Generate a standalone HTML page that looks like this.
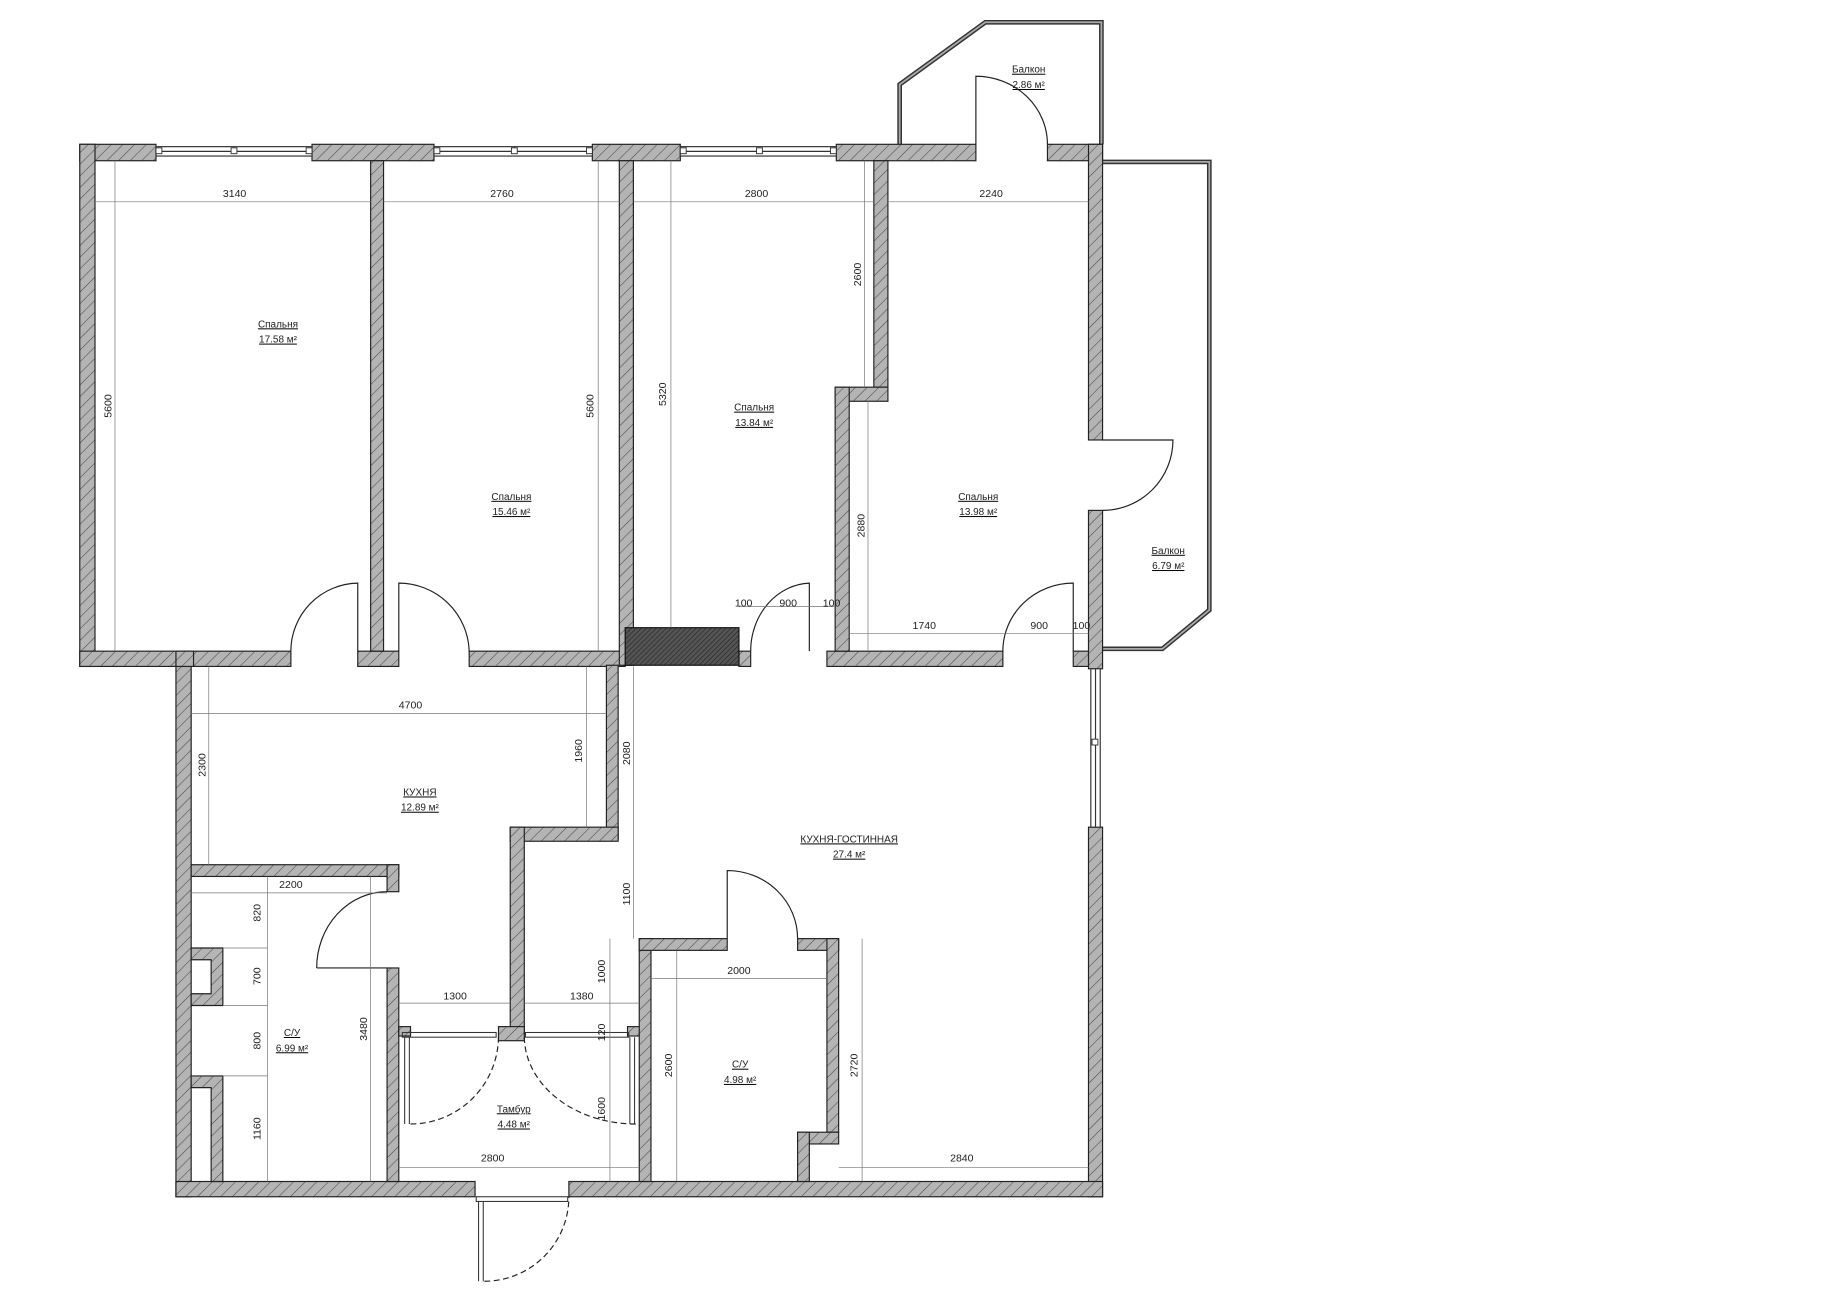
<!DOCTYPE html>
<html><head><meta charset="utf-8"><style>
html,body{margin:0;padding:0;background:#fff;}
svg{display:block}
text{font-family:"Liberation Sans","DejaVu Sans",sans-serif;fill:#222;}
.d{font-size:9px;}
.l{font-size:8.5px;text-decoration:underline;}
</style></head><body>
<svg width="1838" height="1300" viewBox="0 0 1567 1108" preserveAspectRatio="none" xmlns="http://www.w3.org/2000/svg">
<defs>
<pattern id="h" patternUnits="userSpaceOnUse" width="7" height="7" patternTransform="rotate(45)">
<rect width="7" height="7" fill="#b4b4b4"/><line x1="0" y1="0" x2="0" y2="7" stroke="#444" stroke-width="0.9"/>
</pattern>
<pattern id="hd" patternUnits="userSpaceOnUse" width="3" height="3" patternTransform="rotate(45)">
<rect width="3" height="3" fill="#555"/><line x1="0" y1="0" x2="0" y2="3" stroke="#222" stroke-width="1"/>
</pattern>
</defs>
<rect width="1567" height="1108" fill="#fff"/>

<!-- balconies -->
<g fill="none" stroke="#333" stroke-width="4">
<polyline points="767,123 767,72 840,19 939,19 939,123"/>
<polyline points="940,138 1031,138 1031,520 991,553 940,553"/>
</g>
<g fill="none" stroke="#aaa" stroke-width="1.5">
<polyline points="767,123 767,72 840,19 939,19 939,123"/>
<polyline points="940,138 1031,138 1031,520 991,553 940,553"/>
</g>

<!-- walls -->
<g fill="url(#h)" stroke="#222" stroke-width="1">
<rect x="68" y="123" width="65" height="14"/>
<rect x="266" y="123" width="104" height="14"/>
<rect x="505" y="123" width="75" height="14"/>
<rect x="713" y="123" width="119" height="14"/>
<rect x="893" y="123" width="47" height="14"/>
<rect x="68" y="123" width="13" height="445"/>
<rect x="68" y="555" width="180" height="13"/>
<rect x="305" y="555" width="35" height="13"/>
<rect x="400" y="555" width="133" height="13"/>
<rect x="630" y="555" width="10" height="13"/>
<rect x="705" y="555" width="150" height="13"/>
<rect x="915" y="555" width="15" height="13"/>
<rect x="316" y="137" width="11" height="418"/>
<rect x="528" y="137" width="12" height="430"/>
<rect x="745" y="137" width="12" height="193"/>
<rect x="712" y="330" width="45" height="12"/>
<rect x="712" y="330" width="12" height="225"/>
<rect x="928" y="123" width="12" height="252"/>
<rect x="928" y="435" width="12" height="135"/>
<rect x="928" y="705" width="12" height="315"/>
<rect x="150" y="568" width="13" height="452"/>
<rect x="150" y="555" width="15" height="13"/>
<rect x="517" y="567" width="10" height="148"/>
<rect x="435" y="705" width="92" height="12"/>
<rect x="435" y="705" width="12" height="177"/>
<rect x="150" y="1007" width="255" height="13"/>
<rect x="485" y="1007" width="455" height="13"/>
<rect x="163" y="737" width="177" height="10"/>
<rect x="330" y="737" width="10" height="23"/>
<rect x="330" y="825" width="10" height="182"/>
<path d="M163 808 H190 V857 H163 V847 H180 V818 H163 Z"/>
<path d="M163 917 H190 V1007 H180 V927 H163 Z"/>
<rect x="340" y="875" width="10" height="8"/>
<rect x="425" y="875" width="22" height="12"/>
<rect x="535" y="875" width="12" height="8"/>
<rect x="545" y="800" width="10" height="207"/>
<rect x="545" y="800" width="75" height="10"/>
<rect x="680" y="800" width="35" height="10"/>
<rect x="705" y="800" width="10" height="165"/>
<rect x="680" y="965" width="35" height="10"/>
<rect x="680" y="965" width="10" height="42"/>
</g>
<rect x="533" y="535" width="97" height="32" fill="url(#hd)" stroke="#111"/>

<!-- windows -->
<g fill="#fff" stroke="#333" stroke-width="1">
<rect x="133" y="125" width="133" height="8"/><line x1="133" y1="129" x2="266" y2="129"/>
<rect x="370" y="125" width="135" height="8"/><line x1="370" y1="129" x2="505" y2="129"/>
<rect x="580" y="125" width="133" height="8"/><line x1="580" y1="129" x2="713" y2="129"/>
<rect x="930" y="570" width="8" height="135"/><line x1="934" y1="570" x2="934" y2="705"/>
</g>
<g fill="#fff" stroke="#333" stroke-width="0.8">
<rect x="133" y="126" width="5" height="5"/><rect x="197" y="126" width="5" height="5"/><rect x="261" y="126" width="5" height="5"/>
<rect x="370" y="126" width="5" height="5"/><rect x="436" y="126" width="5" height="5"/><rect x="500" y="126" width="5" height="5"/>
<rect x="580" y="126" width="5" height="5"/><rect x="645" y="126" width="5" height="5"/><rect x="708" y="126" width="5" height="5"/>
<rect x="931" y="630" width="5" height="5"/>
</g>

<!-- doors -->
<g fill="none" stroke="#222" stroke-width="1">
<path d="M305 555 V497 A58 58 0 0 0 248 555"/>
<path d="M340 555 V497 A60 60 0 0 1 400 555"/>
<path d="M690 555 V497 A52 58 0 0 0 640 555"/>
<path d="M915 555 V497 A60 58 0 0 0 855 555"/>
<path d="M940 375 H1000 A60 60 0 0 1 940 435"/>
<path d="M832 123 V65 A61 58 0 0 1 893 123"/>
<path d="M270 825 H330 M270 825 A60 65 0 0 1 330 760"/>
<path d="M620 800 V742 A60 58 0 0 1 680 800"/>
</g>
<g fill="none" stroke="#222" stroke-width="1" stroke-dasharray="5,3">
<path d="M350 958 A75 75 0 0 0 425 883"/>
<path d="M542 958 A95 75 0 0 1 447 883"/>
<path d="M413 1092 A72 72 0 0 0 485 1020"/>
</g>
<g fill="none" stroke="#333" stroke-width="0.9">
<rect x="343" y="880" width="80" height="4"/><rect x="448" y="880" width="88" height="4"/>
<line x1="345" y1="884" x2="345" y2="958"/><line x1="349" y1="884" x2="349" y2="958"/>
<line x1="537" y1="884" x2="537" y2="958"/><line x1="541" y1="884" x2="541" y2="958"/>
<rect x="406" y="1020" width="78" height="4"/>
<line x1="408" y1="1024" x2="408" y2="1092"/><line x1="412" y1="1024" x2="412" y2="1092"/>
</g>

<!-- dimension lines -->
<g stroke="#777" stroke-width="0.6" fill="none">
<line x1="81" y1="172" x2="316" y2="172"/><line x1="327" y1="172" x2="528" y2="172"/>
<line x1="540" y1="172" x2="745" y2="172"/><line x1="757" y1="172" x2="928" y2="172"/>
<line x1="98" y1="137" x2="98" y2="555"/><line x1="510" y1="137" x2="510" y2="555"/>
<line x1="572" y1="137" x2="572" y2="535"/><line x1="737" y1="137" x2="737" y2="330"/>
<line x1="740" y1="342" x2="740" y2="555"/>
<line x1="630" y1="517" x2="712" y2="517"/>
<line x1="724" y1="540" x2="928" y2="540"/>
<line x1="163" y1="608" x2="517" y2="608"/>
<line x1="178" y1="568" x2="178" y2="737"/><line x1="500" y1="568" x2="500" y2="705"/>
<line x1="540" y1="568" x2="540" y2="800"/>
<line x1="163" y1="761" x2="330" y2="761"/>
<line x1="228" y1="747" x2="228" y2="1007"/><line x1="190" y1="808" x2="228" y2="808"/>
<line x1="190" y1="857" x2="228" y2="857"/><line x1="190" y1="917" x2="228" y2="917"/>
<line x1="316" y1="747" x2="316" y2="1007"/>
<line x1="340" y1="855" x2="435" y2="855"/><line x1="447" y1="855" x2="545" y2="855"/>
<line x1="520" y1="800" x2="520" y2="1007"/>
<line x1="340" y1="995" x2="545" y2="995"/>
<line x1="555" y1="834" x2="705" y2="834"/>
<line x1="577" y1="810" x2="577" y2="1007"/>
<line x1="735" y1="800" x2="735" y2="1007"/><line x1="715" y1="995" x2="928" y2="995"/>
</g>

<!-- dimension text -->
<g class="d" text-anchor="middle">
<text x="200" y="168">3140</text><text x="428" y="168">2760</text>
<text x="645" y="168">2800</text><text x="845" y="168">2240</text>
<text x="350" y="604">4700</text><text x="248" y="757">2200</text>
<text x="388" y="852">1300</text><text x="496" y="852">1380</text>
<text x="420" y="990">2800</text><text x="630" y="830">2000</text>
<text x="820" y="990">2840</text><text x="788" y="536">1740</text>
<text x="886" y="536">900</text><text x="922" y="536">100</text>
<text x="672" y="517">900</text><text x="634" y="517">100</text><text x="709" y="517">100</text>
<text transform="translate(95,346) rotate(-90)">5600</text>
<text transform="translate(506,346) rotate(-90)">5600</text>
<text transform="translate(568,336) rotate(-90)">5320</text>
<text transform="translate(734,234) rotate(-90)">2600</text>
<text transform="translate(737,448) rotate(-90)">2880</text>
<text transform="translate(175,652) rotate(-90)">2300</text>
<text transform="translate(496,640) rotate(-90)">1960</text>
<text transform="translate(537,642) rotate(-90)">2080</text>
<text transform="translate(537,762) rotate(-90)">1100</text>
<text transform="translate(516,828) rotate(-90)">1000</text>
<text transform="translate(516,880) rotate(-90)">120</text>
<text transform="translate(516,945) rotate(-90)">1600</text>
<text transform="translate(222,778) rotate(-90)">820</text>
<text transform="translate(222,832) rotate(-90)">700</text>
<text transform="translate(222,887) rotate(-90)">800</text>
<text transform="translate(222,962) rotate(-90)">1160</text>
<text transform="translate(313,877) rotate(-90)">3480</text>
<text transform="translate(573,908) rotate(-90)">2600</text>
<text transform="translate(731,908) rotate(-90)">2720</text>
</g>

<!-- room labels -->
<g class="l" text-anchor="middle">
<text x="237" y="279">Спальня</text><text x="237" y="292">17.58 м²</text>
<text x="436" y="426">Спальня</text><text x="436" y="439">15.46 м²</text>
<text x="643" y="350">Спальня</text><text x="643" y="363">13.84 м²</text>
<text x="834" y="426">Спальня</text><text x="834" y="439">13.98 м²</text>
<text x="877" y="62">Балкон</text><text x="877" y="75">2.86 м²</text>
<text x="996" y="472">Балкон</text><text x="996" y="485">6.79 м²</text>
<text x="358" y="678">КУХНЯ</text><text x="358" y="691">12.89 м²</text>
<text x="724" y="718">КУХНЯ-ГОСТИННАЯ</text><text x="724" y="731">27.4 м²</text>
<text x="249" y="883">С/У</text><text x="249" y="896">6.99 м²</text>
<text x="631" y="910">С/У</text><text x="631" y="923">4.98 м²</text>
<text x="438" y="948">Тамбур</text><text x="438" y="961">4.48 м²</text>
</g>
</svg>
</body></html>
